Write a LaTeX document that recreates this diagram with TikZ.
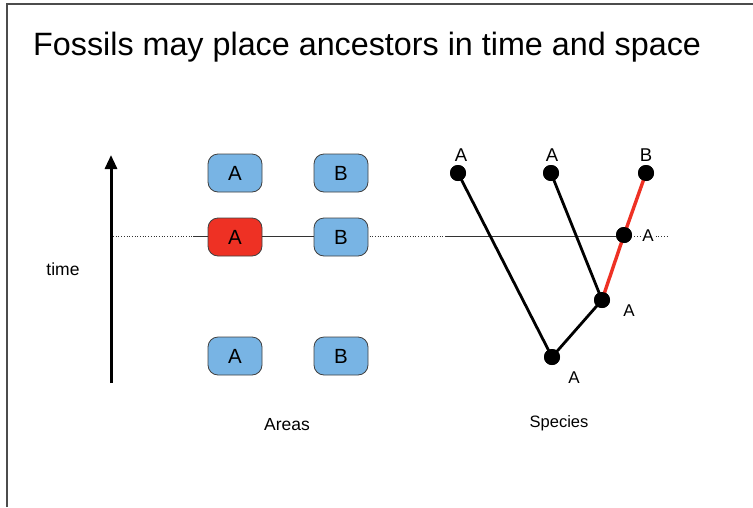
\documentclass[tikz,border=0pt]{standalone}
\usepackage{fontspec}
\setmainfont{Liberation Sans}
\usetikzlibrary{arrows.meta}
\definecolor{boxblue}{HTML}{78B4E4}
\definecolor{boxred}{HTML}{EE3124}
\definecolor{branchred}{HTML}{EE3124}
\begin{document}
\begin{tikzpicture}[x=1pt,y=-1pt,
  areabox/.style={draw=black!75,line width=0.8pt,rounded corners=10pt,minimum width=54pt,minimum height=38pt,inner sep=0pt,font=\fontsize{20.5}{20.5}\selectfont},
  bluebox/.style={areabox,fill=boxblue},
  redbox/.style={areabox,fill=boxred},
  dot/.style={circle,fill=black,minimum size=16pt,inner sep=0pt},
  branch/.style={line width=2.8pt},
  redbranch/.style={line width=3.4pt,draw=branchred},
  toplab/.style={font=\fontsize{18.5}{18.5}\selectfont,inner sep=0pt},
  lowlab/.style={font=\fontsize{17}{17}\selectfont,inner sep=0pt},
  caption/.style={font=\fontsize{17.5}{17.5}\selectfont,inner sep=0pt}]
\useasboundingbox (0,0) rectangle (753,507);
% frame
\draw[line width=1.5pt,black!70] (7,507) -- (7,4) -- (753,4);
% title
\node[anchor=base west,inner sep=0pt,font=\fontsize{32.3}{32.3}\selectfont] (title) at (33,55) {Fossils may place ancestors in time and space};
% time arrow
\coordinate (tbot) at (111,383);
\coordinate (ttop) at (111,155);
\draw[line width=3pt,-{Triangle[length=14pt,width=12pt]}] (tbot) -- (ttop);
\node[font=\fontsize{17.5}{17.5}\selectfont,inner sep=0pt] (time) at (63,269) {time};
% dotted time line
\coordinate (dl) at (113,236);
\coordinate (dr) at (668,236);
\draw[dotted,line width=0.7pt,black!80] (dl) -- (dr);
% area boxes
\node[bluebox] (a1) at (235,173) {A};
\node[bluebox] (b1) at (341,173) {B};
\node[redbox] (a2) at (235,237) {A};
\node[bluebox] (b2) at (341,237) {B};
\node[bluebox] (a3) at (235,356) {A};
\node[bluebox] (b3) at (341,356) {B};
\coordinate (s1) at (193,236);
\draw[line width=0.7pt,black!80] (s1) -- (a2.west |- s1);
\draw[line width=0.7pt,black!80] (a2.east |- s1) -- (b2.west |- s1);
% tree
\node[dot] (t1) at (458,173) {};
\node[dot] (t2) at (551,173) {};
\node[dot] (t3) at (646,173) {};
\node[dot] (c) at (624,235) {};
\node[dot] (d) at (602,300) {};
\node[dot] (e) at (552,357) {};
\coordinate (s2) at (445,236);
\draw[line width=0.7pt,black!80] (s2) -- (c.center |- s2);
\draw[branch] (e.center) -- (t1.center);
\draw[branch] (e.center) -- (d.center);
\draw[branch] (d.center) -- (t2.center);
\draw[redbranch] (d.center) -- (c.center);
\draw[redbranch] (c.center) -- (t3.center);
\node[dot] at (c) {};
\node[dot] at (d) {};
\node[dot] at (e) {};
\node[dot] at (t1) {};
\node[dot] at (t2) {};
\node[dot] at (t3) {};
\node[toplab] (l1) at (461,155) {A};
\node[toplab] (l2) at (552,155) {A};
\node[toplab] (l3) at (646,155) {B};
\node[lowlab,fill=white,inner sep=0.5pt] (lc) at (648,236) {A};
\node[lowlab] (ld) at (629,311) {A};
\node[lowlab] (le) at (574,378) {A};
% captions
\node[caption] (areas) at (287,425) {Areas};
\node[caption,font=\fontsize{16.5}{16.5}\selectfont] (species) at (559,423) {Species};
\end{tikzpicture}
\end{document}
